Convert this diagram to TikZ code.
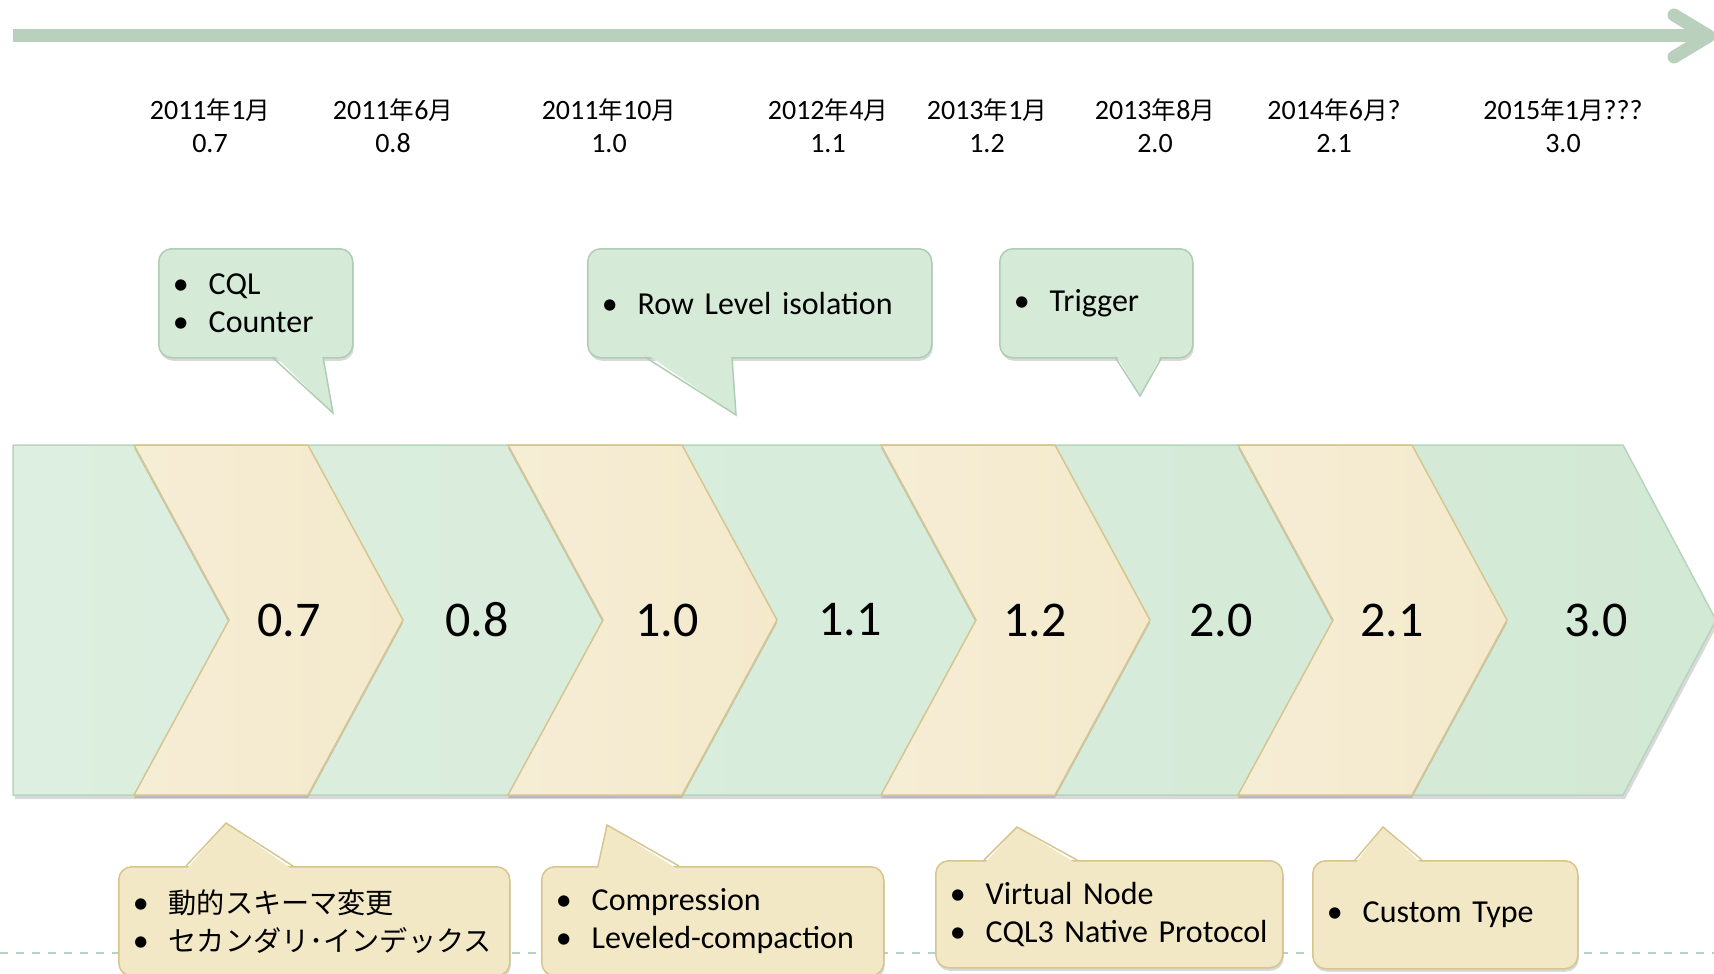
\documentclass[tikz,border=0pt]{standalone}
\usepackage{fontspec}
\setmainfont{Carlito}
\newfontfamily\jp[Scale=0.88]{Noto Sans CJK JP}
\usetikzlibrary{shadows}
\definecolor{axisgreen}{HTML}{B9D1BC}
\definecolor{bandgreen}{HTML}{D2E9D5}
\definecolor{bandlight}{HTML}{DDEFE0}
\definecolor{bandedge}{HTML}{B7D5BC}
\definecolor{chevyellow}{HTML}{F0E3BA}
\definecolor{chevlight}{HTML}{F6EDD6}
\definecolor{chevedge}{HTML}{D7C58F}
\definecolor{gnotefill}{HTML}{D5EBD8}
\definecolor{gnoteedge}{HTML}{AFCDB4}
\definecolor{ynotefill}{HTML}{F3E8C6}
\newcommand{\ym}[2]{#1{\jp 年}#2{\jp 月}}
\newcommand{\itm}{\makebox[36pt][l]{\textbullet}}

\begin{document}
\begin{tikzpicture}[x=1pt,y=-1pt,
  axis/.style={draw=axisgreen,line width=13pt},
  date/.style={align=center,font=\fontsize{28}{33}\selectfont},
  ver/.style={font=\fontsize{50}{60}\selectfont},
  band/.style={draw=bandedge,line width=1.5pt,left color=bandlight,right color=bandgreen,
    drop shadow={shadow xshift=2pt,shadow yshift=-4pt,opacity=0.3}},
  chev/.style={draw=chevedge,line width=1.5pt,left color=chevlight,middle color=chevyellow,
    right color=chevlight!60!chevyellow,drop shadow={shadow xshift=0pt,shadow yshift=-3pt,opacity=0.35}},
  note/.style={anchor=north west,rounded corners=13pt,line width=1.5pt,inner xsep=14pt,
    align=left,font=\fontsize{32}{38}\selectfont,
    drop shadow={shadow xshift=1pt,shadow yshift=-3pt,opacity=0.3}},
  gnote/.style={note,draw=gnoteedge,fill=gnotefill},
  ynote/.style={note,draw=chevedge,fill=ynotefill},
  gedge/.style={draw=gnoteedge,line width=1.5pt},
  yedge/.style={draw=chevedge,line width=1.5pt},
  dashline/.style={draw=bandedge,line width=2pt,dash pattern=on 8pt off 8pt}]
  \useasboundingbox (0,0) rectangle (1714,974);
  \draw[dashline] (0,953) -- (1714,953);

  % time axis
  \coordinate (tstart) at (13,36);
  \coordinate (tend) at (1709,36);
  \draw[axis] (tstart) -- (tend);
  \draw[axis,line cap=round,line join=round] (1674,15) -- (tend) -- (1674,57);

  \node[date] (d07) at (210,126) {\ym{2011}{1}\\0.7};
  \node[date] (d08) at (393,126) {\ym{2011}{6}\\0.8};
  \node[date] (d10) at (609,126) {\ym{2011}{10}\\1.0};
  \node[date] (d11) at (828,126) {\ym{2012}{4}\\1.1};
  \node[date] (d12) at (987,126) {\ym{2013}{1}\\1.2};
  \node[date] (d20) at (1155,126) {\ym{2013}{8}\\2.0};
  \node[date] (d21) at (1334,126) {\ym{2014}{6}?\\2.1};
  \node[date] (d30) at (1563,126) {\ym{2015}{1}???\\3.0};

  % release band
  \draw[band] (13,445) -- (1623,445) -- (1716,620) -- (1623,795) -- (13,795) -- cycle;
  \foreach \l in {134,508,881,1238}
    \draw[chev] (\l,445) -- (\l+174,445) -- (\l+269,620) -- (\l+174,795)
      -- (\l,795) -- (\l+95,620) -- cycle;
  \node[ver] (v07) at (289,620) {0.7};
  \node[ver] (v08) at (477,620) {0.8};
  \node[ver] (v10) at (667,620) {1.0};
  \node[ver] (v11) at (850,620) {1.1};
  \node[ver] (v12) at (1035,620) {1.2};
  \node[ver] (v20) at (1221,620) {2.0};
  \node[ver] (v21) at (1392,620) {2.1};
  \node[ver] (v30) at (1596,620) {3.0};

  % new features
  \node[gnote,text width=166pt,minimum height=109pt] (cql) at (158,248) {\itm CQL\\\itm Counter};
  \fill[gnotefill] (272,353) -- (333,413) -- (323,353) -- cycle;
  \draw[gedge] (272,357) -- (333,413) -- (323,357);
  \node[gnote,text width=316pt,minimum height=109pt] (row) at (587,248) {\itm Row Level isolation};
  \fill[gnotefill] (645,353) -- (736,415) -- (732,353) -- cycle;
  \draw[gedge] (645,357) -- (736,415) -- (732,357);
  \node[gnote,text width=165pt,minimum height=109pt] (trig) at (999,248) {\itm Trigger};
  \fill[gnotefill] (1115,353) -- (1140,396) -- (1162,353) -- cycle;
  \draw[gedge] (1115,357) -- (1140,396) -- (1162,357);

  \node[ynote,text width=363pt,minimum height=109pt] (dyn) at (118,866)
    {\itm{\jp 動的スキーマ変更}\\\itm{\jp セカンダリ･インデックス}};
  \fill[ynotefill] (186,870) -- (226,823) -- (293,870) -- cycle;
  \draw[yedge] (186,866) -- (226,823) -- (293,866);
  \node[ynote,text width=314pt,minimum height=109pt] (comp) at (541,866)
    {\itm Compression\\\itm Leveled-compaction};
  \fill[ynotefill] (598,870) -- (607,825) -- (679,870) -- cycle;
  \draw[yedge] (598,866) -- (607,825) -- (679,866);
  \node[ynote,text width=319pt,minimum height=107pt] (vnode) at (935,860)
    {\itm Virtual Node\\\itm CQL3 Native Protocol};
  \fill[ynotefill] (984,864) -- (1017,827) -- (1077,864) -- cycle;
  \draw[yedge] (984,860) -- (1017,827) -- (1077,860);
  \node[ynote,text width=237pt,minimum height=108pt] (ctype) at (1312,860) {\itm Custom Type};
  \fill[ynotefill] (1355,864) -- (1383,827) -- (1422,864) -- cycle;
  \draw[yedge] (1355,860) -- (1383,827) -- (1422,860);
\end{tikzpicture}
\end{document}
